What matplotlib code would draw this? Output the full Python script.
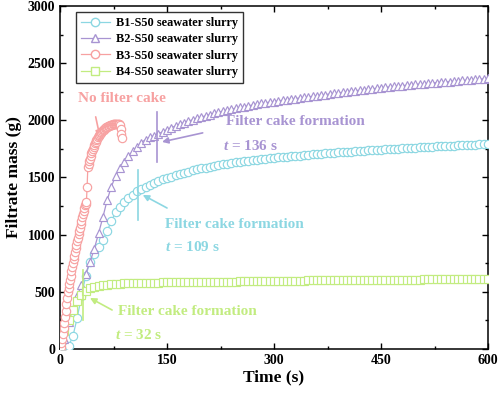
import numpy as np
import matplotlib
matplotlib.use("Agg")
import matplotlib.pyplot as plt
from matplotlib.lines import Line2D

plt.rcParams['font.family'] = ['Liberation Serif', 'DejaVu Serif']
plt.rcParams['font.weight'] = 'bold'
plt.rcParams['mathtext.fontset'] = 'custom'
plt.rcParams['mathtext.it'] = 'Liberation Serif:italic:bold'
plt.rcParams['mathtext.rm'] = 'Liberation Serif:bold'

# ---------------- data ----------------
t_slow = np.arange(0, 601, 6)   # sampling grid for B1, B2, B4 (s)
t_fast = np.arange(0, 88, 1)    # sampling grid for B3 (s)

b1 = [0, 5, 25, 110, 270, 460, 640, 760, 830, 890, 950, 1030, 1120, 1195, 1245, 1285,
      1320, 1350, 1378, 1400, 1420, 1438, 1455, 1470, 1483, 1496, 1508, 1520, 1531, 1541,
      1551, 1561, 1570, 1579, 1587, 1595, 1602, 1609, 1615, 1621, 1627, 1632, 1637, 1642,
      1647, 1651, 1655, 1659, 1663, 1667, 1671, 1675, 1678, 1682, 1685, 1689, 1692, 1695,
      1698, 1701, 1704, 1707, 1710, 1713, 1716, 1719, 1721, 1724, 1727, 1729, 1732, 1734,
      1737, 1739, 1742, 1744, 1746, 1749, 1751, 1753, 1755, 1757, 1759, 1761, 1763, 1765,
      1767, 1769, 1771, 1773, 1775, 1777, 1779, 1781, 1783, 1785, 1786, 1788, 1790, 1791,
      1793]

b2 = [0, 90, 240, 350, 460, 560, 660, 760, 875, 1010, 1150, 1300, 1420, 1515, 1580, 1635,
      1685, 1730, 1770, 1805, 1832, 1850, 1866, 1882, 1900, 1918, 1935, 1950, 1965, 1980,
      1993, 2005, 2017, 2028, 2039, 2050, 2060, 2070, 2080, 2089, 2097, 2105, 2113, 2120,
      2127, 2134, 2141, 2147, 2153, 2159, 2164, 2170, 2175, 2180, 2185, 2190, 2195, 2200,
      2205, 2210, 2215, 2220, 2225, 2230, 2235, 2240, 2245, 2249, 2254, 2259, 2263, 2268,
      2272, 2276, 2280, 2284, 2288, 2292, 2296, 2300, 2303, 2307, 2310, 2314, 2317, 2320,
      2323, 2327, 2330, 2333, 2336, 2339, 2342, 2345, 2348, 2351, 2354, 2357, 2360, 2363,
      2366]

b3 = [0, 20, 50, 85, 130, 180, 230, 280, 335, 390, 445, 500, 535, 570, 605, 640, 680, 715,
      750, 785, 815, 845, 880, 910, 945, 975, 1005, 1035, 1060, 1090, 1120, 1150, 1180, 1210,
      1235, 1255, 1270, 1285, 1420, 1590, 1615, 1640, 1665, 1690, 1712, 1732, 1750, 1768,
      1784, 1799, 1813, 1826, 1840, 1852, 1863, 1873, 1882, 1890, 1898, 1905, 1912, 1918,
      1924, 1930, 1935, 1940, 1944, 1948, 1951, 1954, 1957, 1959, 1961, 1963, 1965, 1966,
      1968, 1969, 1970, 1970, 1970, 1970, 1968, 1965, 1955, 1920, 1880, 1845]

b4 = [0, 160, 250, 340, 420, 475, 510, 532, 546, 554, 560, 564, 567, 570, 572, 574, 576,
      577, 578, 579, 580, 580, 581, 581, 582, 582, 583, 583, 584, 584, 585, 585, 586, 586,
      587, 587, 588, 588, 589, 589, 590, 590, 591, 591, 592, 592, 593, 593, 594, 594, 595,
      595, 596, 596, 597, 597, 598, 598, 599, 599, 600, 600, 600, 601, 601, 601, 602, 602,
      602, 603, 603, 603, 604, 604, 604, 605, 605, 605, 606, 606, 606, 607, 607, 607, 607,
      608, 608, 608, 608, 609, 609, 609, 609, 610, 610, 610, 610, 611, 611, 611, 611]

labels = ['B1-S50 seawater slurry', 'B2-S50 seawater slurry',
          'B3-S50 seawater slurry', 'B4-S50 seawater slurry']
cake_times = [109, 136, 32]

c1 = '#8CD7E2'
c2 = '#A894D2'
c3 = '#F7A1A1'
c4 = '#C2EC80'

# ---------------- figure ----------------
fig = plt.figure(figsize=(4.98, 3.96), dpi=100)
ax = fig.add_axes([0.1205, 0.1187, 0.8595, 0.8663])

ms = 6.0
lw = 0.9
mew = 0.85
ax.plot(t_slow, b1, '-o', color=c1, mfc='white', mec=c1, ms=ms, lw=lw, mew=mew, zorder=3)
ax.plot(t_slow, b2, '-^', color=c2, mfc='white', mec=c2, ms=ms + 0.3, lw=lw, mew=mew, zorder=3)
ax.plot(t_slow, b4, '-s', color=c4, mfc='white', mec=c4, ms=ms - 0.7, lw=lw, mew=mew, zorder=3)
ax.plot(t_fast, b3, '-o', color=c3, mfc='white', mec=c3, ms=ms, lw=lw, mew=mew, zorder=4)

ax.set_xlim(0, 600)
ax.set_ylim(0, 3000)
ax.set_xticks([0, 150, 300, 450, 600])
ax.set_xticks([75, 225, 375, 525], minor=True)
ax.set_yticks(np.arange(0, 3001, 500))
ax.set_yticks(np.arange(250, 3000, 500), minor=True)
ax.tick_params(which='both', direction='in', top=True, right=True, width=1.0)
ax.tick_params(which='major', length=4, labelsize=10)
ax.tick_params(which='minor', length=2.5)
for s in ax.spines.values():
    s.set_linewidth(1.1)
for lab in ax.get_xticklabels() + ax.get_yticklabels():
    lab.set_fontweight('bold')

ax.set_xlabel('Time (s)', fontsize=12.5, fontweight='bold', labelpad=2)
ax.set_ylabel('Filtrate mass (g)', fontsize=12.5, fontweight='bold', labelpad=4)

# legend
handles = [
    Line2D([], [], color=c1, marker='o', mfc='white', mec=c1, ms=6, lw=lw),
    Line2D([], [], color=c2, marker='^', mfc='white', mec=c2, ms=6, lw=lw),
    Line2D([], [], color=c3, marker='o', mfc='white', mec=c3, ms=6, lw=lw),
    Line2D([], [], color=c4, marker='s', mfc='white', mec=c4, ms=5.5, lw=lw),
]
leg = ax.legend(handles, labels, loc='upper left', bbox_to_anchor=(0.037, 0.982),
                borderaxespad=0, frameon=True, fancybox=False, edgecolor='black',
                prop={'family': 'Liberation Serif', 'weight': 'bold', 'size': 8.8},
                handlelength=2.4, labelspacing=0.35, borderpad=0.4, handletextpad=0.5)
leg.get_frame().set_linewidth(1.0)

fs = 11
arrow_kw = dict(arrowstyle='-|>', lw=1.2, mutation_scale=9, shrinkA=0, shrinkB=0)

# B3: no filter cake
ax.text(87, 2187, 'No filter cake', color=c3, fontsize=fs, fontweight='bold',
        ha='center', va='center')
ax.annotate('', xy=(56, 1855), xytext=(50, 2030),
            arrowprops=dict(color=c3, **arrow_kw))

# B2
ax.plot([cake_times[1], cake_times[1]], [1636, 2073], color=c2, lw=1.2, zorder=5)
ax.annotate('', xy=(143, 1811), xytext=(200, 1890),
            arrowprops=dict(color=c2, **arrow_kw))
ax.text(232, 1986, 'Filter cake formation', color=c2, fontsize=fs, fontweight='bold',
        ha='left', va='center')
ax.text(229, 1776, '$t$ = %d s' % cake_times[1], color=c2, fontsize=fs, fontweight='bold',
        ha='left', va='center')

# B1
ax.plot([cake_times[0], cake_times[0]], [1129, 1566], color=c1, lw=1.2, zorder=5)
ax.annotate('', xy=(116, 1347), xytext=(150, 1233),
            arrowprops=dict(color=c1, **arrow_kw))
ax.text(147, 1085, 'Filter cake formation', color=c1, fontsize=fs, fontweight='bold',
        ha='left', va='center')
ax.text(147, 892, '$t$ = %d s' % cake_times[0], color=c1, fontsize=fs, fontweight='bold',
        ha='left', va='center')

# B4
ax.plot([cake_times[2], cake_times[2]], [254, 691], color=c4, lw=1.2, zorder=5)
ax.annotate('', xy=(42, 446), xytext=(73, 341),
            arrowprops=dict(color=c4, **arrow_kw))
ax.text(81, 324, 'Filter cake formation', color=c4, fontsize=fs, fontweight='bold',
        ha='left', va='center')
ax.text(77, 122, '$t$ = %d s' % cake_times[2], color=c4, fontsize=fs, fontweight='bold',
        ha='left', va='center')

fig.savefig('out.png', dpi=100)
